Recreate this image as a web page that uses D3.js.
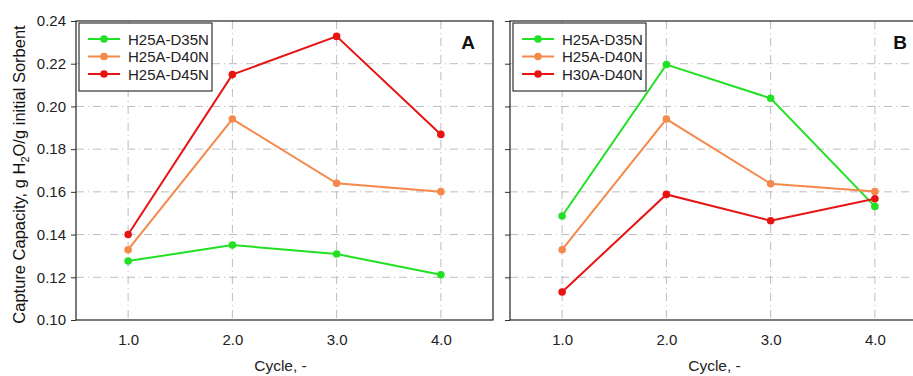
<!DOCTYPE html>
<html>
<head>
<meta charset="utf-8">
<script src="https://cdn.jsdelivr.net/npm/d3@7"></script>
<style>
  html, body { margin: 0; padding: 0; background: #fff; }
  svg { display: block; font-family: "Liberation Sans", Arial, sans-serif; }
</style>
</head>
<body>
<svg id="chart" width="913" height="376"></svg>
<script>
// values
const cycles = [1.0, 2.0, 3.0, 4.0];
const xTicks = [1.0, 2.0, 3.0, 4.0];
const yTicks = [0.10, 0.12, 0.14, 0.16, 0.18, 0.20, 0.22, 0.24];

const namesA = ['H25A-D35N', 'H25A-D40N', 'H25A-D45N'];
const namesB = ['H25A-D35N', 'H25A-D40N', 'H30A-D40N'];
const colors = ['#22e022', '#f5894b', '#e81414'];

const h25aD35nA = [0.1276, 0.1351, 0.1309, 0.1212];
const h25aD40nA = [0.1329, 0.1941, 0.1640, 0.1601];
const h25aD45nA = [0.1400, 0.2149, 0.2328, 0.1869];

const h25aD35nB = [0.1487, 0.2196, 0.2038, 0.1532];
const h25aD40nB = [0.1329, 0.1941, 0.1638, 0.1602];
const h30aD40nB = [0.1131, 0.1588, 0.1465, 0.1568];

const svg = d3.select('#chart');
const TOP = 21, BOTTOM = 320, PW = 417;
const FONT = '"Liberation Sans", Arial, sans-serif';

const y = d3.scaleLinear().domain([0.10, 0.24]).range([BOTTOM, TOP]);

function drawPanel(left, label, names, series, showYLabels) {
  const x = d3.scaleLinear().domain([0.5, 4.5]).range([left, left + PW]);
  const g = svg.append('g');

  // grid
  g.append('g').selectAll('line').data(xTicks).join('line')
    .attr('x1', d => x(d)).attr('x2', d => x(d))
    .attr('y1', TOP).attr('y2', BOTTOM)
    .attr('stroke', '#bdbdbd').attr('stroke-dasharray', '8,4,1,4');
  g.append('g').selectAll('line').data(yTicks.slice(1, -1)).join('line')
    .attr('x1', left).attr('x2', left + PW)
    .attr('y1', d => y(d)).attr('y2', d => y(d))
    .attr('stroke', '#bdbdbd').attr('stroke-dasharray', '8,4,1,4');

  // y axis (ticks outside, labels only on panel A)
  const yAxis = d3.axisLeft(y).tickValues(yTicks).tickSize(5).tickPadding(5)
    .tickFormat(showYLabels ? d3.format('.2f') : () => '');
  const ya = g.append('g').attr('transform', `translate(${left},0)`).call(yAxis);
  ya.select('.domain').remove();
  ya.selectAll('line').attr('stroke', '#333');
  ya.selectAll('text').attr('font-size', 15).attr('fill', '#222').attr('font-family', FONT);

  // x axis labels
  const xAxis = d3.axisBottom(x).tickValues(xTicks).tickSize(0).tickPadding(14)
    .tickFormat(d3.format('.1f'));
  const xa = g.append('g').attr('transform', `translate(0,${BOTTOM})`).call(xAxis);
  xa.select('.domain').remove();
  xa.selectAll('text').attr('font-size', 15).attr('fill', '#222').attr('font-family', FONT);

  // frame
  g.append('rect').attr('x', left).attr('y', TOP).attr('width', PW).attr('height', BOTTOM - TOP)
    .attr('fill', 'none').attr('stroke', '#222').attr('stroke-width', 1.2);

  // series
  const line = d3.line().x((d, i) => x(cycles[i])).y(d => y(d));
  series.forEach((vals, k) => {
    g.append('path').datum(vals).attr('d', line)
      .attr('fill', 'none').attr('stroke', colors[k]).attr('stroke-width', 2);
    g.append('g').selectAll('circle').data(vals).join('circle')
      .attr('cx', (d, i) => x(cycles[i])).attr('cy', d => y(d)).attr('r', 3.8)
      .attr('fill', colors[k]);
  });

  // legend
  const lx = left + 3, ly = 23;
  const lg = g.append('g');
  lg.append('rect').attr('x', lx).attr('y', ly).attr('width', 133).attr('height', 68)
    .attr('fill', '#fff').attr('stroke', '#333').attr('stroke-width', 1.2);
  names.forEach((n, k) => {
    const cy = ly + 16 + k * 17.5;
    lg.append('line').attr('x1', lx + 9).attr('x2', lx + 41).attr('y1', cy).attr('y2', cy)
      .attr('stroke', colors[k]).attr('stroke-width', 2);
    lg.append('circle').attr('cx', lx + 25).attr('cy', cy).attr('r', 3.8).attr('fill', colors[k]);
    lg.append('text').attr('x', lx + 49).attr('y', cy + 5.5).attr('font-size', 15)
      .attr('fill', '#222').text(n);
  });

  // panel letter
  g.append('text').attr('x', left + PW - (showYLabels ? 25 : 27)).attr('y', 48.5)
    .attr('text-anchor', 'middle').attr('font-size', 19).attr('font-weight', 'bold')
    .attr('fill', '#111').text(label);

  // x title
  g.append('text').attr('x', left + PW / 2 - 4).attr('y', 371)
    .attr('text-anchor', 'middle').attr('font-size', 15.5).attr('fill', '#222').text('Cycle, -');
}

drawPanel(76, 'A', namesA, [h25aD35nA, h25aD40nA, h25aD45nA], true);
drawPanel(510, 'B', namesB, [h25aD35nB, h25aD40nB, h30aD40nB], false);

// y title with subscript
const yt = svg.append('text')
  .attr('transform', `translate(25,${(TOP + BOTTOM) / 2 + 4}) rotate(-90)`)
  .attr('text-anchor', 'middle').attr('font-size', 16.5).attr('fill', '#111');
yt.append('tspan').text('Capture Capacity, g H');
yt.append('tspan').attr('font-size', 11).attr('dy', 4).text('2');
yt.append('tspan').attr('dy', -4).text('O/g initial Sorbent');
</script>
</body>
</html>
